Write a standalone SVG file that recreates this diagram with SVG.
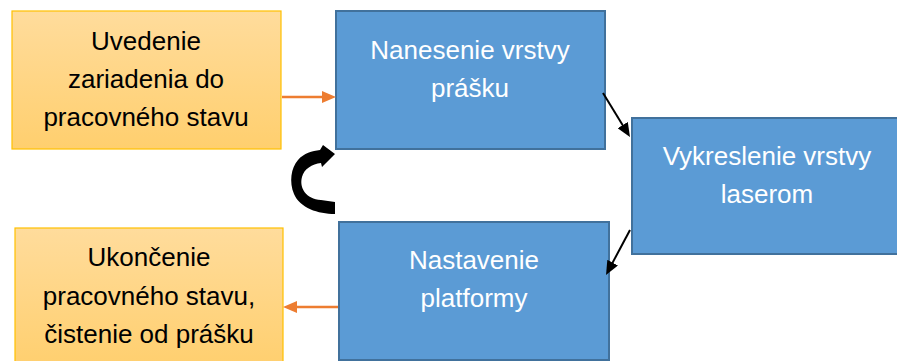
<svg xmlns="http://www.w3.org/2000/svg" width="897" height="361" viewBox="0 0 897 361">
<defs>
<linearGradient id="og" x1="0" y1="0" x2="0" y2="1">
<stop offset="0" stop-color="#FFDC9C"/>
<stop offset="1" stop-color="#FFCF6E"/>
</linearGradient>
<marker id="ho" viewBox="0 0 14 12" markerWidth="14" markerHeight="12" refX="6" refY="6" orient="auto" markerUnits="userSpaceOnUse">
<path d="M0,0 L14,6 L0,12 z" fill="#ED7D31"/>
</marker>
<marker id="hb" viewBox="0 0 14 12" markerWidth="14" markerHeight="12" refX="6" refY="6" orient="auto" markerUnits="userSpaceOnUse">
<path d="M0,0 L14,6 L0,12 z" fill="#000"/>
</marker>
<style>
.or{fill:url(#og);stroke:#FFC000;stroke-width:1.2}
.bl{fill:#5B9BD5;stroke:#41719C;stroke-width:2}
text{font-family:"Liberation Sans",Arial,sans-serif;font-size:26px;text-anchor:middle}
.tw{fill:#FFFFFF}
.tk{fill:#000000}
.ca{stroke:#ED7D31;stroke-width:2.5;fill:none;marker-end:url(#ho)}
.cb{stroke:#000;stroke-width:2;fill:none;marker-end:url(#hb)}
</style>
</defs>
<g id="n1">
<rect class="or" x="12" y="11" width="269" height="138"/>
<text class="tk" x="146" y="50">Uvedenie</text>
<text class="tk" x="146" y="88">zariadenia do</text>
<text class="tk" x="146" y="126">pracovného stavu</text>
</g>
<g id="n2">
<rect class="bl" x="336" y="11" width="269" height="138"/>
<text class="tw" x="470" y="59">Nanesenie vrstvy</text>
<text class="tw" x="470" y="97">prášku</text>
</g>
<g id="n3">
<rect class="bl" x="632" y="118" width="272" height="136"/>
<text class="tw" x="767" y="165">Vykreslenie vrstvy</text>
<text class="tw" x="767" y="203">laserom</text>
</g>
<g id="n4">
<rect class="bl" x="339" y="222" width="270" height="138"/>
<text class="tw" x="474" y="269">Nastavenie</text>
<text class="tw" x="474" y="307">platformy</text>
</g>
<g id="n5">
<rect class="or" x="15" y="228" width="268" height="140"/>
<text class="tk" x="149" y="266">Ukončenie</text>
<text class="tk" x="149" y="305">pracovného stavu,</text>
<text class="tk" x="149" y="343">čistenie od prášku</text>
</g>
<g id="connectors">
<line class="ca" x1="282" y1="97" x2="328" y2="97"/>
<line class="ca" x1="338" y1="307" x2="291" y2="307"/>
<line class="cb" x1="603" y1="93" x2="625.8" y2="130.2"/>
<line class="cb" x1="630" y1="230" x2="609.8" y2="267.9"/>
<path d="M335,214 C318,214 300,208 294,194 C289,182 291,168 298,160 C304,153 312,151 320,150 L323,145 L335,154 L322,167 L321,163 C312,164 304,169 302,177 C299,188 306,199 321,200 L335,202 Z" fill="#000"/>
</g>
</svg>
